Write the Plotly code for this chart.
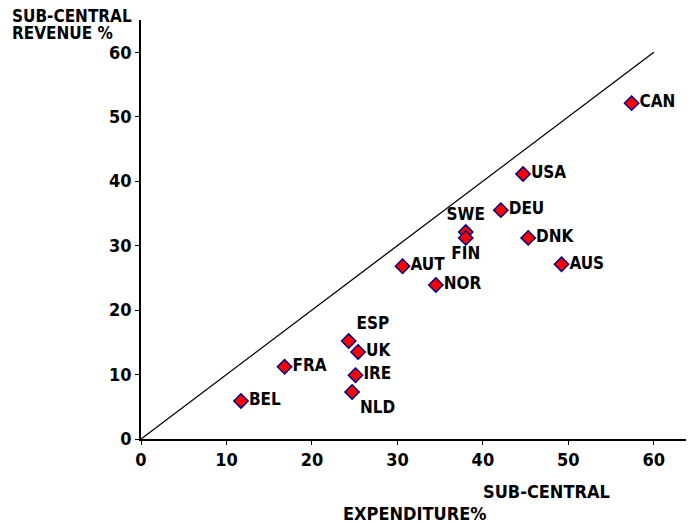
import plotly.graph_objects as go

countries = ["CAN", "USA", "DEU", "SWE", "FIN", "DNK", "AUS", "AUT", "NOR",
             "ESP", "UK", "IRE", "NLD", "FRA", "BEL"]
expenditure = [57.4, 44.7, 42.1, 38.0, 38.0, 45.3, 49.2, 30.6, 34.5,
               24.3, 25.4, 25.1, 24.7, 16.8, 11.7]
revenue = [52.1, 41.1, 35.5, 32.1, 31.2, 31.2, 27.1, 26.8, 23.9,
           15.2, 13.5, 9.9, 7.3, 11.2, 5.9]
label_pos = ["middle right", "middle right", "middle right", "top center",
             "bottom center", "middle right", "middle right", "middle right",
             "middle right", "top right", "middle right", "middle right",
             "bottom right", "middle right", "middle right"]
diag = [0, 60]

font_family = "DejaVu Sans Condensed, DejaVu Sans, sans-serif"

fig = go.Figure()
fig.add_trace(go.Scatter(x=diag, y=diag, mode="lines",
                         line=dict(color="black", width=1.3),
                         hoverinfo="skip", showlegend=False))
fig.add_trace(go.Scatter(
    x=expenditure, y=revenue, mode="markers+text",
    text=countries, textposition=label_pos,
    textfont=dict(size=17, color="black", family=font_family, weight="bold"),
    marker=dict(symbol="diamond", size=11, color="#ff0000",
                line=dict(color="#000080", width=1.5)),
    showlegend=False,
))

axis_style = dict(tickvals=[0, 10, 20, 30, 40, 50, 60], showgrid=False,
                  zeroline=False, showline=True, linecolor="black",
                  linewidth=1.5, ticks="outside", ticklen=4,
                  tickcolor="black", tickfont=dict(size=18))
fig.update_xaxes(range=[0, 64.7], **axis_style)
fig.update_yaxes(range=[0, 65], **axis_style)

# body has an 8px margin in the page, so the figure is trimmed to fit
fig.update_layout(
    width=686, height=516,
    margin=dict(l=133, r=0, t=12, b=85),
    plot_bgcolor="white", paper_bgcolor="white",
    font=dict(family=font_family, color="black", weight="bold"),
    annotations=[
        dict(text="SUB-CENTRAL", x=-0.237, y=1.024, xref="paper",
             yref="paper", xanchor="left", yanchor="middle", yshift=-6,
             showarrow=False, font=dict(size=17)),
        dict(text="REVENUE %", x=-0.237, y=0.983, xref="paper",
             yref="paper", xanchor="left", yanchor="middle", yshift=-6,
             showarrow=False, font=dict(size=17)),
        dict(text="SUB-CENTRAL", x=0.852, y=-0.126, xref="paper",
             yref="paper", showarrow=False, font=dict(size=18), yshift=-12),
        dict(text="EXPENDITURE%", x=0.495, y=-0.181, xref="paper",
             yref="paper", showarrow=False, font=dict(size=18), yshift=-11),
    ],
)

fig.write_html("out.html")
